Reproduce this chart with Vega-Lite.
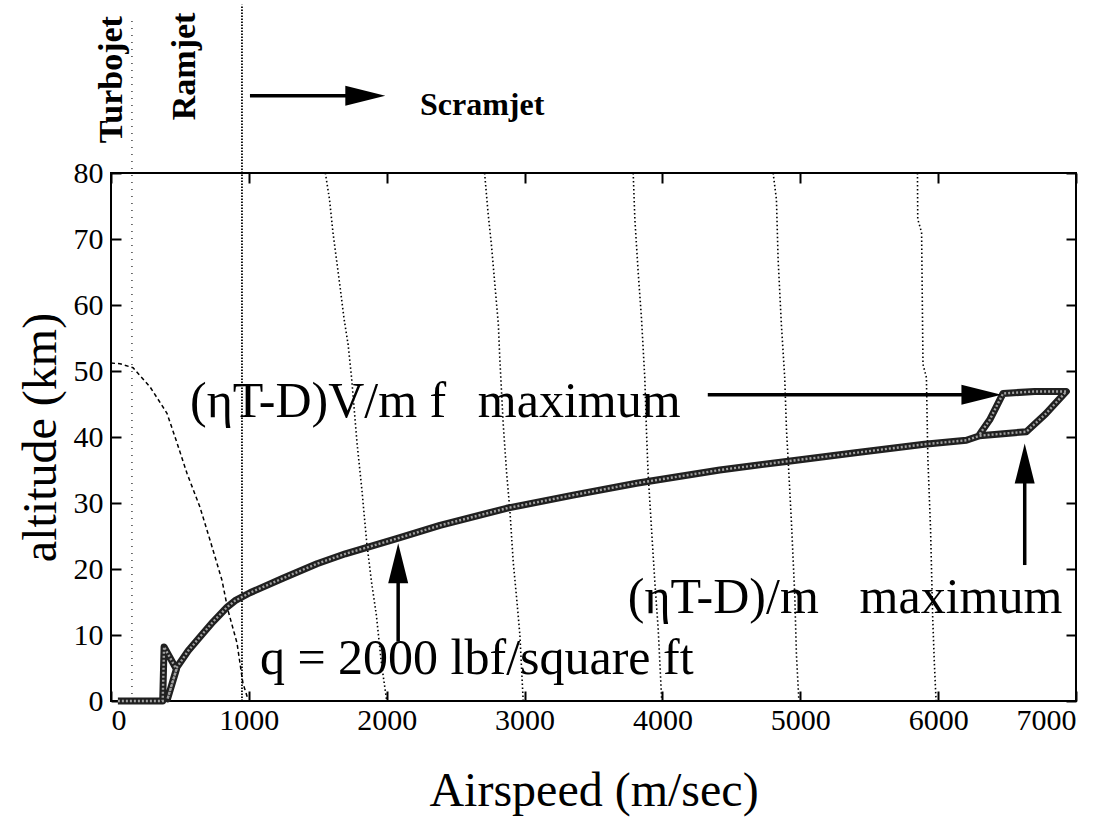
{
  "$schema": "https://vega.github.io/schema/vega-lite/v6.json",
  "width": 965,
  "height": 528,
  "autosize": "none",
  "padding": {"left": 111, "top": 173, "right": 39, "bottom": 123},
  "background": "white",
  "config": {
    "view": {"stroke": "black", "strokeWidth": 2},
    "font": "Liberation Serif",
    "axis": {
      "grid": false, "domain": false,
      "tickColor": "black", "tickWidth": 2, "tickSize": -10,
      "labelFont": "Liberation Serif", "labelFontSize": 30, "labelColor": "black",
      "titleFont": "Liberation Serif", "titleFontSize": 48, "titleFontWeight": "normal", "titleColor": "black"
    }
  },
  "datasets": {
    "contours": [
      {"id": "A", "o": 1, "v": 1555, "alt": 80}, {"id": "A", "o": 2, "v": 1585, "alt": 76}, {"id": "A", "o": 3, "v": 1610, "alt": 71},
      {"id": "A", "o": 4, "v": 1635, "alt": 67}, {"id": "A", "o": 5, "v": 1660, "alt": 63}, {"id": "A", "o": 6, "v": 1690, "alt": 58},
      {"id": "A", "o": 7, "v": 1720, "alt": 54}, {"id": "A", "o": 8, "v": 1745, "alt": 49}, {"id": "A", "o": 9, "v": 1765, "alt": 44},
      {"id": "A", "o": 10, "v": 1785, "alt": 39}, {"id": "A", "o": 11, "v": 1820, "alt": 32}, {"id": "A", "o": 12, "v": 1855, "alt": 24},
      {"id": "A", "o": 13, "v": 1890, "alt": 18}, {"id": "A", "o": 14, "v": 1925, "alt": 13}, {"id": "A", "o": 15, "v": 1960, "alt": 6},
      {"id": "A", "o": 16, "v": 2000, "alt": 0},
      {"id": "B", "o": 1, "v": 2710, "alt": 80}, {"id": "B", "o": 2, "v": 2735, "alt": 74}, {"id": "B", "o": 3, "v": 2760, "alt": 69},
      {"id": "B", "o": 4, "v": 2785, "alt": 63}, {"id": "B", "o": 5, "v": 2810, "alt": 57}, {"id": "B", "o": 6, "v": 2820, "alt": 52},
      {"id": "B", "o": 7, "v": 2845, "alt": 42}, {"id": "B", "o": 8, "v": 2870, "alt": 34.5}, {"id": "B", "o": 9, "v": 2893, "alt": 29},
      {"id": "B", "o": 10, "v": 2918, "alt": 21}, {"id": "B", "o": 11, "v": 2945, "alt": 15}, {"id": "B", "o": 12, "v": 2966, "alt": 10},
      {"id": "B", "o": 13, "v": 2990, "alt": 0},
      {"id": "C", "o": 1, "v": 3788, "alt": 80}, {"id": "C", "o": 2, "v": 3800, "alt": 73}, {"id": "C", "o": 3, "v": 3824, "alt": 65},
      {"id": "C", "o": 4, "v": 3848, "alt": 58}, {"id": "C", "o": 5, "v": 3872, "alt": 49}, {"id": "C", "o": 6, "v": 3884, "alt": 41},
      {"id": "C", "o": 7, "v": 3896, "alt": 34.5}, {"id": "C", "o": 8, "v": 3921, "alt": 26}, {"id": "C", "o": 9, "v": 3945, "alt": 18},
      {"id": "C", "o": 10, "v": 3969, "alt": 11}, {"id": "C", "o": 11, "v": 3995, "alt": 0},
      {"id": "D", "o": 1, "v": 4803, "alt": 80}, {"id": "D", "o": 2, "v": 4827, "alt": 76}, {"id": "D", "o": 3, "v": 4839, "alt": 67},
      {"id": "D", "o": 4, "v": 4863, "alt": 57}, {"id": "D", "o": 5, "v": 4887, "alt": 49}, {"id": "D", "o": 6, "v": 4900, "alt": 41},
      {"id": "D", "o": 7, "v": 4912, "alt": 36.5}, {"id": "D", "o": 8, "v": 4936, "alt": 27}, {"id": "D", "o": 9, "v": 4960, "alt": 16},
      {"id": "D", "o": 10, "v": 4972, "alt": 7}, {"id": "D", "o": 11, "v": 4990, "alt": 0},
      {"id": "E", "o": 1, "v": 5850, "alt": 80}, {"id": "E", "o": 2, "v": 5852, "alt": 73}, {"id": "E", "o": 3, "v": 5880, "alt": 71},
      {"id": "E", "o": 4, "v": 5890, "alt": 51}, {"id": "E", "o": 5, "v": 5915, "alt": 49}, {"id": "E", "o": 6, "v": 5925, "alt": 37},
      {"id": "E", "o": 7, "v": 5945, "alt": 26}, {"id": "E", "o": 8, "v": 5960, "alt": 13}, {"id": "E", "o": 9, "v": 5972, "alt": 6},
      {"id": "E", "o": 10, "v": 5985, "alt": 0}
    ],
    "engines": [
      {"id": "turbo", "v": 152, "alt": 0}, {"id": "turbo", "v": 152, "alt": 103.8},
      {"id": "ram", "v": 950, "alt": 0}, {"id": "ram", "v": 950, "alt": 105.5}
    ],
    "dashed": [
      {"o": 1, "v": 0, "alt": 51.2}, {"o": 2, "v": 65, "alt": 51.1}, {"o": 3, "v": 160, "alt": 50.5},
      {"o": 4, "v": 283, "alt": 47.6}, {"o": 5, "v": 406, "alt": 43.6}, {"o": 6, "v": 479, "alt": 39.1},
      {"o": 7, "v": 551, "alt": 34.5}, {"o": 8, "v": 645, "alt": 29.4}, {"o": 9, "v": 718, "alt": 24.4},
      {"o": 10, "v": 805, "alt": 18.3}, {"o": 11, "v": 848, "alt": 13.8}, {"o": 12, "v": 914, "alt": 8.8},
      {"o": 13, "v": 957, "alt": 2.7}, {"o": 14, "v": 993, "alt": 0.3}
    ],
    "trajectory": [
      {"o": 1, "v": 50, "alt": 0}, {"o": 2, "v": 375, "alt": 0}, {"o": 3, "v": 385, "alt": 8.2},
      {"o": 4, "v": 475, "alt": 4.8}, {"o": 5, "v": 410, "alt": 0.3}, {"o": 6, "v": 478, "alt": 5.1},
      {"o": 7, "v": 560, "alt": 7.6}, {"o": 8, "v": 645, "alt": 9.7}, {"o": 9, "v": 740, "alt": 12},
      {"o": 10, "v": 841, "alt": 14.2}, {"o": 11, "v": 900, "alt": 15.2}, {"o": 12, "v": 1008, "alt": 16.4},
      {"o": 13, "v": 1247, "alt": 18.6}, {"o": 14, "v": 1494, "alt": 20.8}, {"o": 15, "v": 1700, "alt": 22.3},
      {"o": 16, "v": 2072, "alt": 24.6}, {"o": 17, "v": 2386, "alt": 26.6}, {"o": 18, "v": 2869, "alt": 29.2},
      {"o": 19, "v": 3353, "alt": 31.2}, {"o": 20, "v": 3812, "alt": 33.0}, {"o": 21, "v": 4416, "alt": 35.0},
      {"o": 22, "v": 4900, "alt": 36.3}, {"o": 23, "v": 5400, "alt": 37.6}, {"o": 24, "v": 5900, "alt": 38.9},
      {"o": 25, "v": 6205, "alt": 39.5}, {"o": 26, "v": 6301, "alt": 40.2}, {"o": 27, "v": 6640, "alt": 40.8},
      {"o": 28, "v": 6780, "alt": 43.5}, {"o": 29, "v": 6930, "alt": 46.9}, {"o": 30, "v": 6700, "alt": 46.9},
      {"o": 31, "v": 6471, "alt": 46.6}, {"o": 32, "v": 6420, "alt": 44.5}, {"o": 33, "v": 6374, "alt": 42.6},
      {"o": 34, "v": 6320, "alt": 41}, {"o": 35, "v": 6295, "alt": 40.2}
    ],
    "arrows": [
      {"id": "scram", "v1": 1008, "v2": 1750, "a1": 91.7, "a2": 91.7},
      {"id": "vmf", "v1": 4329, "v2": 6200, "a1": 46.4, "a2": 46.4},
      {"id": "acc", "v1": 6628, "v2": 6628, "a1": 20.6, "a2": 34},
      {"id": "q", "v1": 2083, "v2": 2083, "a1": 9, "a2": 19}
    ],
    "headsRight": [
      {"id": "scram", "v": 1990, "alt": 91.7},
      {"id": "vmf", "v": 6459, "alt": 46.4}
    ],
    "headsUp": [
      {"id": "acc", "v": 6628, "alt": 39.0},
      {"id": "q", "v": 2083, "alt": 23.9}
    ],
    "labels": [
      {"t": "(ηT-D)V/m f", "v": 573, "alt": 43.0},
      {"t": "maximum", "v": 2661, "alt": 43.0},
      {"t": "(ηT-D)/m", "v": 3749, "alt": 13.4},
      {"t": "maximum", "v": 5430, "alt": 13.4},
      {"t": "q = 2000 lbf/square ft", "v": 1080, "alt": 4.1}
    ],
    "engineLabels": [
      {"t": "Turbojet", "v": 7, "alt": 84.5},
      {"t": "Ramjet", "v": 537, "alt": 88.0}
    ],
    "scramLabel": [
      {"t": "Scramjet", "v": 2241, "alt": 88.8}
    ]
  },
  "layer": [
    {
      "data": {"name": "contours"},
      "mark": {"type": "line", "color": "black", "strokeWidth": 1.6, "strokeDash": [1.5, 2.5]},
      "encoding": {
        "x": {"field": "v", "type": "quantitative", "scale": {"domain": [0, 7000], "nice": false},
              "axis": {"values": [0, 1000, 2000, 3000, 4000, 5000, 6000, 7000], "format": "d", "title": "Airspeed (m/sec)", "labelPadding": 14, "titlePadding": 32}},
        "y": {"field": "alt", "type": "quantitative", "scale": {"domain": [0, 80], "nice": false},
              "axis": {"values": [0, 10, 20, 30, 40, 50, 60, 70, 80], "title": "altitude (km)", "labelPadding": 18, "titlePadding": 8}},
        "detail": {"field": "id"},
        "order": {"field": "o"}
      }
    },
    {
      "data": {"name": "engines"},
      "mark": {"type": "line", "color": "black", "clip": false},
      "encoding": {
        "x": {"field": "v", "type": "quantitative", "scale": {"domain": [0, 7000], "nice": false},
              "axis": {"orient": "top", "values": [0, 1000, 2000, 3000, 4000, 5000, 6000, 7000], "labels": false, "title": null}},
        "y": {"field": "alt", "type": "quantitative", "scale": {"domain": [0, 80], "nice": false},
              "axis": {"orient": "right", "values": [0, 10, 20, 30, 40, 50, 60, 70, 80], "labels": false, "title": null}},
        "detail": {"field": "id"},
        "strokeDash": {"field": "id", "type": "nominal", "scale": {"domain": ["turbo", "ram"], "range": [[1, 6], [1.5, 1.5]]}, "legend": null},
        "strokeWidth": {"field": "id", "type": "nominal", "scale": {"domain": ["turbo", "ram"], "range": [1.1, 1.8]}, "legend": null}
      }
    },
    {
      "data": {"name": "dashed"},
      "mark": {"type": "line", "color": "black", "strokeWidth": 1.5, "strokeDash": [4, 3]},
      "encoding": {
        "x": {"field": "v", "type": "quantitative", "axis": null},
        "y": {"field": "alt", "type": "quantitative", "axis": null},
        "order": {"field": "o"}
      }
    },
    {
      "data": {"name": "trajectory"},
      "mark": {"type": "line", "color": "#202020", "strokeWidth": 7, "strokeJoin": "round"},
      "encoding": {
        "x": {"field": "v", "type": "quantitative", "axis": null},
        "y": {"field": "alt", "type": "quantitative", "axis": null},
        "order": {"field": "o"}
      }
    },
    {
      "data": {"name": "trajectory"},
      "mark": {"type": "line", "color": "#a0a0a0", "strokeWidth": 2.4, "strokeDash": [2, 2]},
      "encoding": {
        "x": {"field": "v", "type": "quantitative", "axis": null},
        "y": {"field": "alt", "type": "quantitative", "axis": null},
        "order": {"field": "o"}
      }
    },
    {
      "data": {"name": "arrows"},
      "mark": {"type": "rule", "color": "black", "strokeWidth": 3.5, "clip": false},
      "encoding": {
        "x": {"field": "v1", "type": "quantitative", "axis": null},
        "x2": {"field": "v2"},
        "y": {"field": "a1", "type": "quantitative", "axis": null},
        "y2": {"field": "a2"}
      }
    },
    {
      "data": {"name": "headsRight"},
      "mark": {"type": "point", "shape": "M-2,-0.5L0,0L-2,0.5Z", "filled": true, "color": "black", "opacity": 1, "size": 1600, "clip": false},
      "encoding": {
        "x": {"field": "v", "type": "quantitative", "axis": null},
        "y": {"field": "alt", "type": "quantitative", "axis": null}
      }
    },
    {
      "data": {"name": "headsUp"},
      "mark": {"type": "point", "shape": "M-0.5,2L0,0L0.5,2Z", "filled": true, "color": "black", "opacity": 1, "size": 1600, "clip": false},
      "encoding": {
        "x": {"field": "v", "type": "quantitative", "axis": null},
        "y": {"field": "alt", "type": "quantitative", "axis": null}
      }
    },
    {
      "data": {"name": "labels"},
      "mark": {"type": "text", "font": "Liberation Serif", "fontSize": 50, "align": "left", "baseline": "alphabetic", "color": "black"},
      "encoding": {
        "x": {"field": "v", "type": "quantitative", "axis": null},
        "y": {"field": "alt", "type": "quantitative", "axis": null},
        "text": {"field": "t"}
      }
    },
    {
      "data": {"name": "engineLabels"},
      "mark": {"type": "text", "font": "Liberation Serif", "fontSize": 34, "fontWeight": "bold", "angle": 270, "align": "left", "baseline": "middle", "color": "black"},
      "encoding": {
        "x": {"field": "v", "type": "quantitative", "axis": null},
        "y": {"field": "alt", "type": "quantitative", "axis": null},
        "text": {"field": "t"}
      }
    },
    {
      "data": {"name": "scramLabel"},
      "mark": {"type": "text", "font": "Liberation Serif", "fontSize": 32, "fontWeight": "bold", "align": "left", "baseline": "alphabetic", "color": "black"},
      "encoding": {
        "x": {"field": "v", "type": "quantitative", "axis": null},
        "y": {"field": "alt", "type": "quantitative", "axis": null},
        "text": {"field": "t"}
      }
    }
  ],
  "resolve": {"axis": {"x": "independent", "y": "independent"}}
}
